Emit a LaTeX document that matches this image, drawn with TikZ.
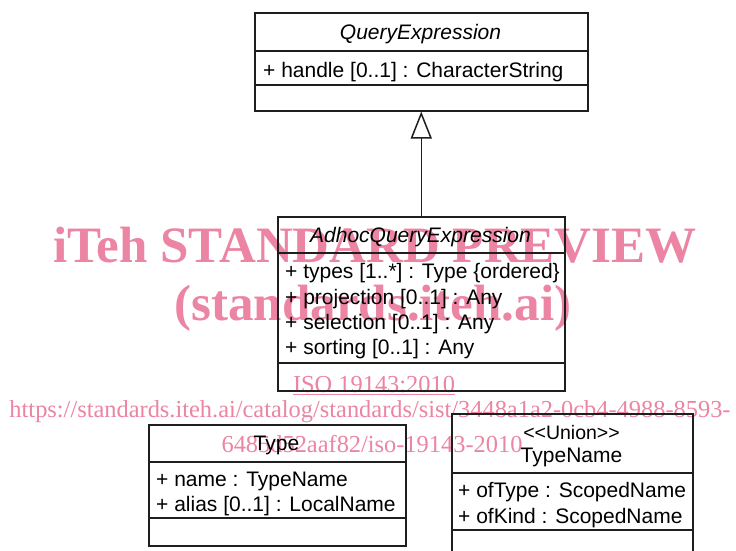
\documentclass[tikz,border=0pt]{standalone}
\usepackage{fontspec}
\setmainfont{Liberation Sans}
\newfontfamily\wmfont{Liberation Serif}
\usetikzlibrary{arrows.meta}
\definecolor{wm}{RGB}{236,132,163}
\definecolor{ln}{RGB}{30,30,30}
\begin{document}
\begin{tikzpicture}[x=1pt,y=-1pt,
  box/.style={draw=ln,line width=1.5pt,rectangle,inner sep=0pt,anchor=north west},
  sep/.style={draw=ln,line width=1.5pt},
  txt/.style={inner sep=0pt,text height=15pt,text depth=0pt,font=\fontsize{21}{25}\selectfont},
  attr/.style={txt,anchor=west},
  title/.style={txt,anchor=center},
  wmbig/.style={text=wm,inner sep=0pt,anchor=base,font=\wmfont\bfseries\fontsize{51}{60}\selectfont},
  wmsmall/.style={text=wm,inner sep=0pt,anchor=base,font=\wmfont\fontsize{24.4}{28}\selectfont}]
\clip (0,0) rectangle (736,550);
\fill[white] (0,0) rectangle (736,550);
% watermark
\node[wmbig] (wm1) at (375,262) {iTeh STANDARD PREVIEW};
\node[wmbig] (wm2) at (373,320) {(standards.iteh.ai)};
\node[wmsmall] (wm3) at (374,392) {\underline{ISO 19143:2010}};
\node[wmsmall] (wm4) at (370,417) {https://standards.iteh.ai/catalog/standards/sist/3448a1a2-0cb4-4988-8593-};
\node[wmsmall] (wm5) at (372,452) {6485d52aaf82/iso-19143-2010};
% QueryExpression
\node[box, minimum width=333pt, minimum height=98pt] (qe) at (254,12) {};
\draw[sep] (254,51) -- (587,51);
\draw[sep] (254,85) -- (587,85);
\node[title] (qet) at (420.5,32) {\itshape QueryExpression};
\node[attr] (qea) at (263,70) {+ handle [0..1] : CharacterString};
% AdhocQueryExpression
\node[box, minimum width=287pt, minimum height=174pt] (ad) at (277,216) {};
\draw[sep] (277,253) -- (564,253);
\draw[sep] (277,363) -- (564,363);
\node[title] (adt) at (420.5,235) {\itshape AdhocQueryExpression};
\node[attr] (ad1) at (285,271) {+ types [1..*] : Type \{ordered\}};
\node[attr] (ad2) at (285,297) {+ projection [0..1] : Any};
\node[attr] (ad3) at (285,322) {+ selection [0..1] : Any};
\node[attr] (ad4) at (285,347) {+ sorting [0..1] : Any};
% Type
\node[box, minimum width=257pt, minimum height=121pt] (ty) at (148,424) {};
\draw[sep] (148,462) -- (405,462);
\draw[sep] (148,518) -- (405,518);
\node[title] (tyt) at (276.5,443) {Type};
\node[attr] (ty1) at (156,479) {+ name : TypeName};
\node[attr] (ty2) at (156,504) {+ alias [0..1] : LocalName};
% TypeName
\node[box, minimum width=241pt, minimum height=150pt] (tn) at (451,413) {};
\draw[sep] (451,473) -- (692,473);
\draw[sep] (451,530) -- (692,530);
\node[title,font=\fontsize{19.5}{23}\selectfont] (tnst) at (571.5,432) {\textless\kern0pt\textless\kern0pt Union\textgreater\kern0pt\textgreater};
\node[title] (tnt) at (571.5,455) {TypeName};
\node[attr] (tn1) at (458,490) {+ ofType : ScopedName};
\node[attr] (tn2) at (458,516) {+ ofKind : ScopedName};
% generalization
\draw[draw=ln,line width=1.5pt,-{Triangle[open,width=21pt,length=27pt]}] (ad.north) -- (qe.south);
\end{tikzpicture}
\end{document}
